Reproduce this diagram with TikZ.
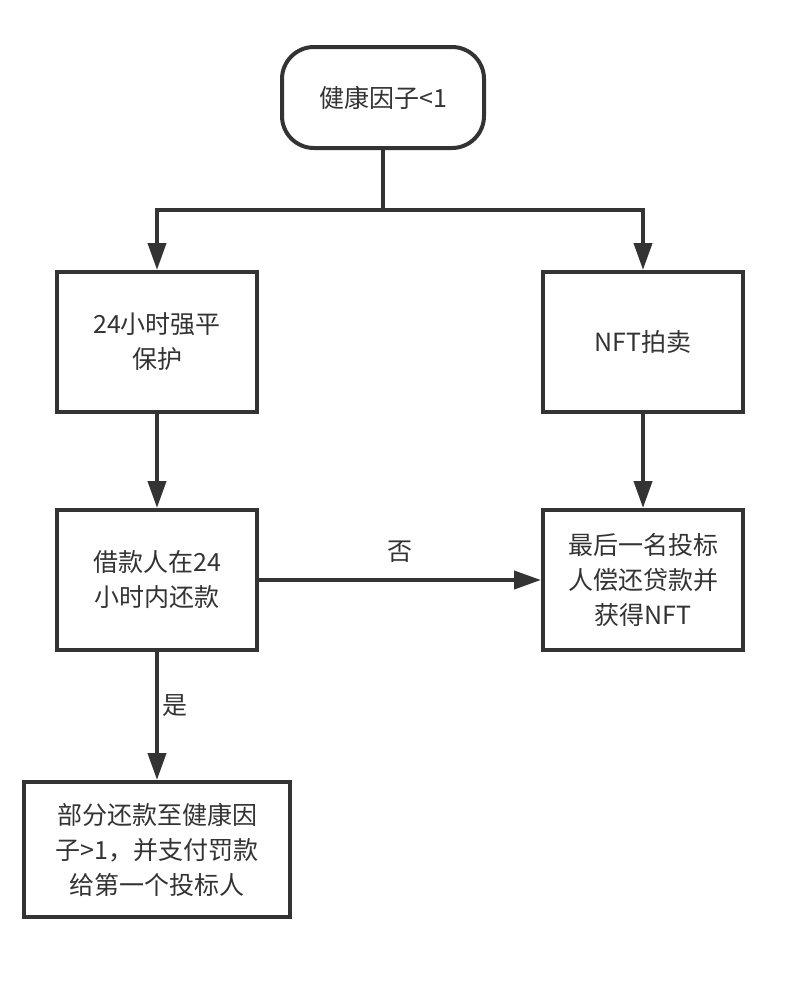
\documentclass[tikz,border=0pt]{standalone}
\usepackage{fontspec}
\newfontfamily\cjk{Noto Sans CJK SC}
\usepackage{tikz}
\usetikzlibrary{positioning, arrows.meta}
\definecolor{flowgray}{HTML}{333333}

\begin{document}
\begin{tikzpicture}[
  x=1pt, y=1pt,
  every node/.style={font=\cjk\fontsize{25pt}{35pt}\selectfont, text=flowgray},
  stepbox/.style={draw=flowgray, line width=4pt, align=center, minimum width=200pt, minimum height=140pt},
  startbox/.style={stepbox, rounded corners=32pt, minimum width=202pt, minimum height=101pt},
  arrow/.style={-{Triangle[length=27pt, width=18pt]}, line width=4pt, draw=flowgray}
]
\useasboundingbox (0,0) rectangle (796,-1004);
\node[startbox] (health) at (383,-97.5) {健康因子<1};
\node[stepbox] (protect) at (157,-342) {24小时强平\\保护};
\node[stepbox, right=282pt of protect] (auction) {NFT拍卖};
\node[stepbox, below=94pt of protect] (repay) {借款人在24\\小时内还款};
\node[stepbox, below=94pt of auction] (winner) {最后一名投标\\人偿还贷款并\\获得NFT};
\node[stepbox, minimum width=266pt, minimum height=135pt, below=128pt of repay] (partial) {部分还款至健康因\\子>1，并支付罚款\\给第一个投标人};
\coordinate (split) at (383,-210);

\draw[arrow] (health) -- (split) -| (protect);
\draw[arrow] (split) -| (auction);
\draw[arrow] (protect) -- (repay);
\draw[arrow] (auction) -- (winner);
\draw[arrow] (repay) -- node[above=12pt] (no) {否} (winner);
\draw[arrow] (repay) -- node[right, pos=0.42] (yes) {是} (partial);
\end{tikzpicture}
\end{document}
